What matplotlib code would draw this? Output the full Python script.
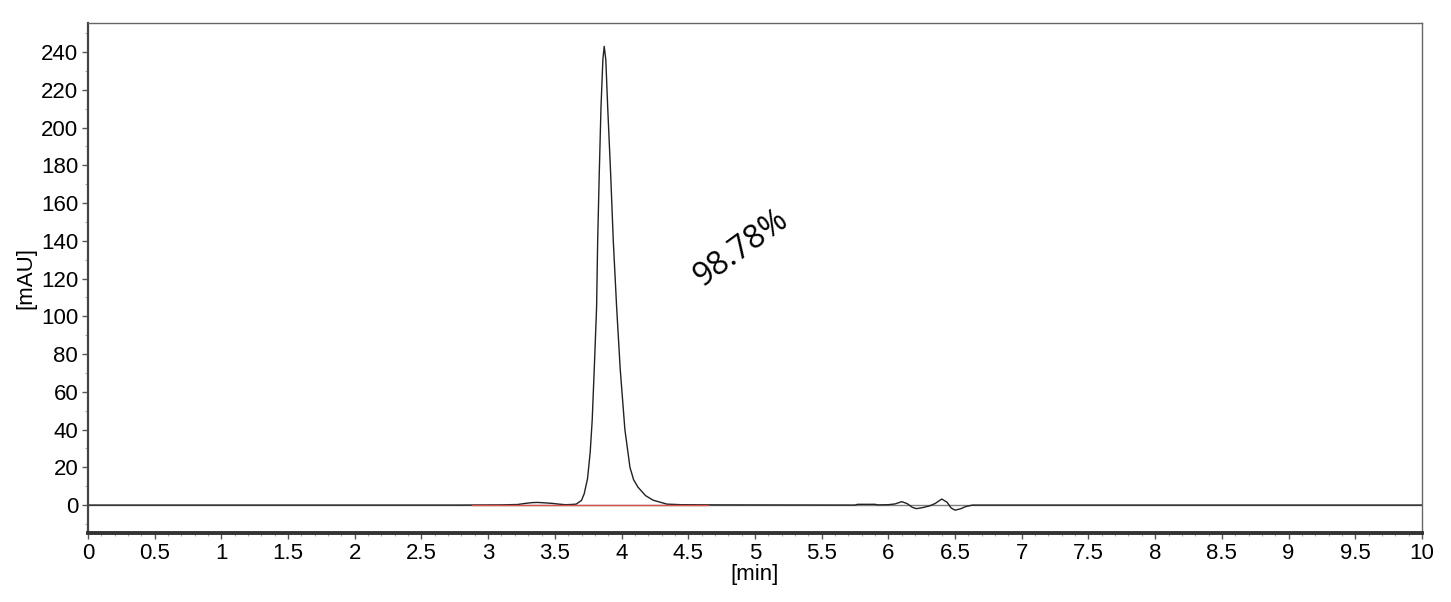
import matplotlib.pyplot as plt
from matplotlib.ticker import MultipleLocator

# chromatogram trace (time in min, signal in mAU)
time_min = [0.0, 2.80, 3.10, 3.22, 3.28, 3.33, 3.37, 3.42, 3.48, 3.53, 3.58, 3.62,
            3.66, 3.70, 3.72, 3.745, 3.765, 3.78, 3.797, 3.813, 3.821, 3.833, 3.846,
            3.860, 3.870, 3.882, 3.896, 3.918, 3.938, 3.963, 3.99, 4.025, 4.063,
            4.09, 4.123, 4.18, 4.236, 4.34, 4.45, 4.70, 5.75, 5.77, 5.90, 5.92,
            6.00, 6.05, 6.10, 6.14, 6.18, 6.21, 6.26, 6.31, 6.35, 6.40, 6.44,
            6.47, 6.50, 6.54, 6.58, 6.63, 10.0]
signal_mau = [0.0, 0.0, 0.1, 0.3, 0.9, 1.3, 1.4, 1.2, 0.9, 0.5, 0.2, 0.3,
              0.5, 2.5, 6.0, 14.0, 28.0, 45.0, 75.0, 105.0, 140.0, 176.0, 211.0,
              236.0, 243.0, 236.0, 211.0, 176.0, 140.0, 105.0, 72.0, 40.0, 20.0,
              13.5, 9.5, 5.0, 2.6, 0.5, 0.2, 0.1, 0.0, 0.4, 0.4, 0.1,
              0.2, 0.6, 1.8, 0.8, -1.2, -1.9, -1.3, -0.4, 0.8, 3.2, 1.5,
              -1.5, -2.7, -2.0, -0.8, 0.0, 0.0]

# integration baseline of the main peak
baseline_t = [2.88, 4.65]
baseline_y = [0.0, 0.0]

peak_label = "98.78%"
label_pos = (4.90, 136)

fig = plt.figure(figsize=(14.51, 6.02), dpi=100)
ax = fig.add_axes([0.0606, 0.1146, 0.9194, 0.8472])

ax.axhline(0, color='#808080', linewidth=1.0, zorder=1)
ax.plot(time_min, signal_mau, color='#222222', linewidth=1.0, zorder=2)
ax.plot(baseline_t, baseline_y, color='#d9534f', linewidth=1.0, zorder=3)

ax.text(label_pos[0], label_pos[1], peak_label, rotation=36, fontsize=23,
        family='Open Sans', ha='center', va='center', rotation_mode='anchor')

ax.set_xlim(0, 10)
ax.set_ylim(-14.8, 255.4)
ax.xaxis.set_major_locator(MultipleLocator(0.5))
ax.xaxis.set_minor_locator(MultipleLocator(0.1))
ax.yaxis.set_major_locator(MultipleLocator(20))
ax.yaxis.set_minor_locator(MultipleLocator(10))
ax.set_xticklabels([f"{v:g}" for v in ax.get_xticks()])

tick_font = dict(family='Liberation Sans', size=16)
for lbl in ax.get_xticklabels() + ax.get_yticklabels():
    lbl.set_fontfamily('Liberation Sans')
    lbl.set_fontsize(16)

ax.tick_params(axis='both', which='major', length=4, width=1, color='#555555', pad=3)
ax.tick_params(axis='both', which='minor', length=2.5, width=0.8, color='#aaaaaa')

ax.set_xlabel('[min]', fontdict=tick_font, labelpad=0)
ax.set_ylabel('[mAU]', fontdict=tick_font, labelpad=3)

ax.spines['bottom'].set_linewidth(2.8)
ax.spines['bottom'].set_color('#333333')
ax.spines['left'].set_linewidth(1.6)
ax.spines['left'].set_color('#444444')
for side in ('top', 'right'):
    ax.spines[side].set_linewidth(1.0)
    ax.spines[side].set_color('#666666')

fig.savefig('out.png', dpi=100)
